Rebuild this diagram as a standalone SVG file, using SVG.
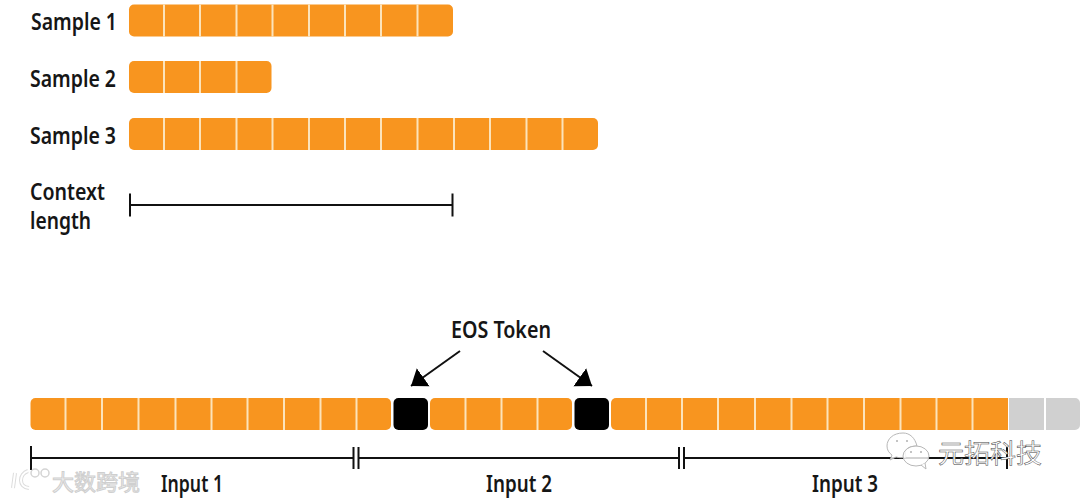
<svg xmlns="http://www.w3.org/2000/svg" width="1080" height="501" viewBox="0 0 1080 501">
<style>
.l{font-family:"Noto Sans","Liberation Sans",sans-serif;font-size:24px;font-weight:600;fill:#161616}
.c{fill:#f8951f}
.k{fill:#000}
.g{fill:#d0d0d0}
.d{stroke:#fce3ba;stroke-width:2;fill:none}
.b{stroke:#111;stroke-width:2;fill:none}
.w{font-family:"Noto Sans CJK SC",sans-serif}
.bub{fill:#fff;fill-opacity:.82;stroke:#b8b8b8;stroke-width:1}
</style>
<defs>
<marker id="a" markerUnits="userSpaceOnUse" markerWidth="18" markerHeight="24" refX="15" refY="12" orient="auto"><path d="M0 1L15 12L0 23Z" fill="#000"/></marker>
</defs>
<rect width="1080" height="501" fill="#fff"/>
<g id="sample1">
<text class="l" x="31" y="30" textLength="86" lengthAdjust="spacingAndGlyphs">Sample 1</text>
<rect class="c" x="129" y="4.500" width="324" height="32" rx="5"/>
<path class="d" d="M164 4.500V36.500M200 4.500V36.500M236.500 4.500V36.500M272.500 4.500V36.500M309 4.500V36.500M345 4.500V36.500M381 4.500V36.500M417.500 4.500V36.500"/>
</g>
<g id="sample2">
<text class="l" x="30" y="87" textLength="86" lengthAdjust="spacingAndGlyphs">Sample 2</text>
<rect class="c" x="129" y="61" width="142.500" height="32" rx="5"/>
<path class="d" d="M164 61V93M200 61V93M236.500 61V93"/>
</g>
<g id="sample3">
<text class="l" x="30" y="144" textLength="86" lengthAdjust="spacingAndGlyphs">Sample 3</text>
<rect class="c" x="129" y="118" width="469" height="32" rx="5"/>
<path class="d" d="M164 118V150M200 118V150M236.500 118V150M272.500 118V150M309 118V150M345 118V150M381 118V150M417.500 118V150M454 118V150M490 118V150M526.500 118V150M562.500 118V150"/>
</g>
<g id="context">
<text class="l" x="30" y="200" textLength="75" lengthAdjust="spacingAndGlyphs">Context</text>
<text class="l" x="30" y="229" textLength="61" lengthAdjust="spacingAndGlyphs">length</text>
<path class="b" d="M130 193.500V216.500M130 205H452.500M452.500 193.500V216.500"/>
</g>
<g id="sequence">
<rect class="c" x="30.500" y="398" width="360.500" height="32" rx="5"/>
<path class="d" d="M65.500 398V430M102 398V430M138.500 398V430M175.500 398V430M211.500 398V430M247.500 398V430M284 398V430M320.500 398V430M356.500 398V430"/>
<rect class="k" x="393.500" y="398" width="34.500" height="32" rx="5"/>
<rect class="c" x="430" y="398" width="142" height="32" rx="5"/>
<path class="d" d="M465.500 398V430M501.500 398V430M537.500 398V430"/>
<rect class="k" x="574.500" y="398" width="34.500" height="32" rx="5"/>
<path class="c" d="M1008 398H616a5 5 0 0 0-5 5V425a5 5 0 0 0 5 5H1008Z"/>
<path class="d" d="M646 398V430M682 398V430M718 398V430M755 398V430M791.500 398V430M827.500 398V430M864 398V430M900.500 398V430M936.500 398V430M972.500 398V430"/>
<path class="g" d="M1009 398H1044V430H1009ZM1046 398H1075a5 5 0 0 1 5 5V425a5 5 0 0 1-5 5H1046Z"/>
</g>
<g id="connectors">
<path d="M460 351L411 386" stroke="#111" stroke-width="2" fill="none" marker-end="url(#a)"/>
<path d="M543 351L592 386" stroke="#111" stroke-width="2" fill="none" marker-end="url(#a)"/>
</g>
<g id="eos-label"><text class="l" x="451" y="338" textLength="100" lengthAdjust="spacingAndGlyphs">EOS Token</text></g>
<g id="input1">
<path class="b" d="M31 446V470M31 458H353.500M353.500 447V469M358.500 447V469"/>
<text class="l" x="161" y="492" textLength="62" lengthAdjust="spacingAndGlyphs">Input 1</text>
</g>
<g id="input2">
<path class="b" d="M358.500 458H679M679 447V469M684 447V469"/>
<text class="l" x="486" y="492" textLength="66" lengthAdjust="spacingAndGlyphs">Input 2</text>
</g>
<g id="input3">
<path class="b" d="M684 458H1007M1007 447V469"/>
<text class="l" x="812" y="492" textLength="66" lengthAdjust="spacingAndGlyphs">Input 3</text>
</g>
<g id="watermark-left">
<path d="M15 473L13 488M28 471C19 474 18 487 29 488" fill="none" stroke="#dcdcdc" stroke-width="4"/>
<path d="M15 473L13 488M28 471C19 474 18 487 29 488" fill="none" stroke="#fff" stroke-width="2"/>
<circle cx="35" cy="473" r="4" fill="#fff" stroke="#d4d4d4" stroke-width="1.500"/><circle cx="45" cy="473" r="4" fill="#fff" stroke="#d4d4d4" stroke-width="1.500"/>
<text class="w" x="52" y="490" font-size="22" fill="#f2f2f2" stroke="#cfcfcf" stroke-width="1">大数跨境</text>
</g>
<g id="watermark-right">
<path class="bub" d="M903 433C893 433 887 439 887 446C887 450 889 453 892 455L890 460L896 457C900 458 903 458 906 457C903 449 909 446 917 446C915 438 910 433 903 433Z"/>
<ellipse class="bub" cx="916" cy="456" rx="13" ry="10"/>
<path class="bub" d="M921 465L926 469L925 463"/>
<g fill="#b0b0b0"><circle cx="897" cy="441" r="1"/><circle cx="907" cy="441" r="1"/><circle cx="911" cy="452" r="1"/><circle cx="921" cy="452" r="1"/></g>
<text class="w" x="938" y="463" font-size="26" fill="#fff" stroke="#444" stroke-width="0.500">元拓科技</text>
</g>
</svg>
